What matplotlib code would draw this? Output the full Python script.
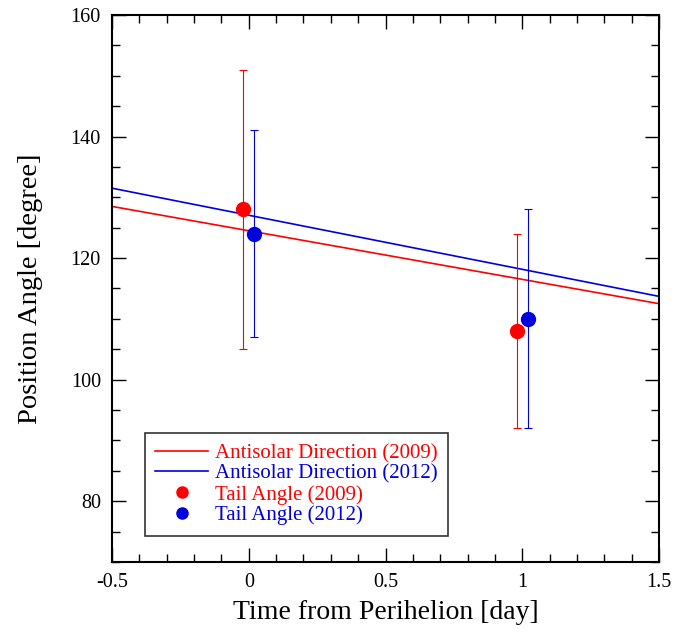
import matplotlib

matplotlib.use("Agg")
import matplotlib.pyplot as plt
import numpy as np
from matplotlib.lines import Line2D
from matplotlib.ticker import MultipleLocator

# antisolar direction lines (endpoints at x = -0.5 and 1.5)
line_x = [-0.5, 1.5]
anti_2009 = [128.5, 112.5]
anti_2012 = [131.5, 113.7]

# tail angle measurements
tail_x_2009 = [-0.02, 0.98]
tail_y_2009 = [128, 108]
tail_lo_2009 = [105, 92]
tail_hi_2009 = [151, 124]

tail_x_2012 = [0.02, 1.02]
tail_y_2012 = [124, 110]
tail_lo_2012 = [107, 92]
tail_hi_2012 = [141, 128]

RED = "#ff0000"
BLUE = "#0000dd"

plt.rcParams["font.family"] = ["Liberation Serif", "DejaVu Serif"]

fig = plt.figure(figsize=(6.97, 6.32), dpi=100)
ax = fig.add_axes([0.1607, 0.1108, 0.7848, 0.8655])

ax.plot(line_x, anti_2009, color=RED, lw=1.2)
ax.plot(line_x, anti_2012, color=BLUE, lw=1.2)

err09 = [np.subtract(tail_y_2009, tail_lo_2009), np.subtract(tail_hi_2009, tail_y_2009)]
err12 = [np.subtract(tail_y_2012, tail_lo_2012), np.subtract(tail_hi_2012, tail_y_2012)]
ax.errorbar(tail_x_2009, tail_y_2009, yerr=err09, fmt="o", color=RED, ms=10,
            elinewidth=0.8, capsize=3, capthick=0.8)
ax.errorbar(tail_x_2012, tail_y_2012, yerr=err12, fmt="o", color=BLUE, ms=10,
            elinewidth=0.8, capsize=3, capthick=0.8)

ax.set_xlim(-0.5, 1.5)
ax.set_ylim(70, 160)
ax.set_xticks([-0.5, 0, 0.5, 1, 1.5])
ax.set_xticklabels(["-0.5", "0", "0.5", "1", "1.5"])
ax.xaxis.set_minor_locator(MultipleLocator(0.1))
ax.yaxis.set_major_locator(MultipleLocator(20))
ax.yaxis.set_minor_locator(MultipleLocator(5))
ax.tick_params(which="both", direction="in", top=True, right=True, labelsize=14.5, width=1)
ax.tick_params(which="major", length=10, pad=8)
ax.tick_params(which="minor", length=6)
for s in ax.spines.values():
    s.set_linewidth(1.5)

ax.set_xlabel("Time from Perihelion [day]", fontsize=20, labelpad=6)
ax.set_ylabel("Position Angle [degree]", fontsize=20.5, labelpad=20)

handles = [
    Line2D([], [], color=RED, lw=1.2),
    Line2D([], [], color=BLUE, lw=1.2),
    Line2D([], [], color=RED, marker="o", ls="none", ms=8),
    Line2D([], [], color=BLUE, marker="o", ls="none", ms=8),
]
labels = ["Antisolar Direction (2009)", "Antisolar Direction (2012)",
          "Tail Angle (2009)", "Tail Angle (2012)"]
leg = ax.legend(handles, labels, loc="lower left", bbox_to_anchor=(0.06, 0.048), fontsize=15,
                frameon=True, fancybox=False, edgecolor="black", handlelength=2.55,
                labelspacing=0.05, borderpad=0.5, handletextpad=0.3, borderaxespad=0)
leg.get_frame().set_linewidth(1.2)
for txt, c in zip(leg.get_texts(), [RED, BLUE, RED, BLUE]):
    txt.set_color(c)

fig.savefig("out.png", dpi=100)
